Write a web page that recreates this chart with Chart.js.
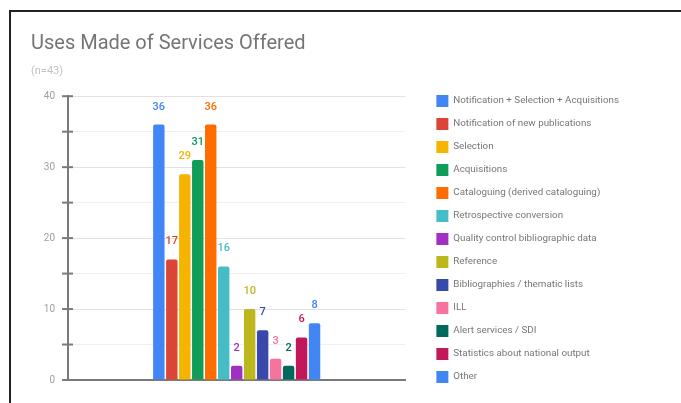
<!DOCTYPE html>
<html>
<head>
<meta charset="utf-8">
<script src="https://cdn.jsdelivr.net/npm/chart.js@4/dist/chart.umd.min.js"></script>
<style>
  html, body { margin: 0; padding: 0; background: #fff; overflow: hidden; }
  #wrap { position: relative; width: 681px; height: 403px; }
  #frame {
    position: absolute; left: 9px; top: 10px; width: 700px; height: 420px;
    border-top: 2px solid #222; border-left: 2px solid #222;
  }
  canvas { position: absolute; left: 0; top: 0; }
</style>
</head>
<body>
<div id="wrap">
  <div id="frame"></div>
  <canvas id="uses-chart" width="681" height="403"></canvas>
</div>
<script>
const services = [
  'Notification + Selection + Acquisitions',
  'Notification of new publications',
  'Selection',
  'Acquisitions',
  'Cataloguing (derived cataloguing)',
  'Retrospective conversion',
  'Quality control bibliographic data',
  'Reference',
  'Bibliographies / thematic lists',
  'ILL',
  'Alert services / SDI',
  'Statistics about national output',
  'Other'
];
const counts = [36, 17, 29, 31, 36, 16, 2, 10, 7, 3, 2, 6, 8];
const colors = [
  '#4285f4', '#db4437', '#f4b400', '#0f9d58', '#ff6d00', '#46bdc6', '#a12fc6',
  '#bdb71e', '#3949ab', '#f7739f', '#00695c', '#c2185b', '#4285f4'
];
const yTicks = [0, 10, 20, 30, 40];

// value above each bar, in the bar's colour
const barValues = {
  id: 'barValues',
  afterDatasetsDraw(chart) {
    const ctx = chart.ctx;
    ctx.save();
    ctx.font = '500 11px Roboto';
    ctx.textAlign = 'center';
    ctx.textBaseline = 'alphabetic';
    chart.data.datasets.forEach((ds, i) => {
      const bar = chart.getDatasetMeta(i).data[0];
      ctx.fillStyle = ds.backgroundColor;
      ctx.fillText(ds.data[0], bar.x, bar.y - 15);
    });
    ctx.restore();
  }
};

// small tick marks crossing the y axis line
const axisTicks = {
  id: 'axisTicks',
  afterDraw(chart) {
    const y = chart.scales.y;
    const ctx = chart.ctx;
    const x = chart.chartArea.left;
    ctx.save();
    ctx.strokeStyle = '#7a7a7a';
    ctx.lineWidth = 2;
    y.ticks.forEach(t => {
      const py = y.getPixelForValue(t.value);
      ctx.beginPath();
      ctx.moveTo(x - 6, py);
      ctx.lineTo(x + 5, py);
      ctx.stroke();
    });
    ctx.restore();
  }
};

new Chart(document.getElementById('uses-chart'), {
  type: 'bar',
  data: {
    labels: [''],
    datasets: services.map((name, i) => ({
      label: name,
      data: [counts[i]],
      backgroundColor: colors[i],
      borderRadius: 2,
      categoryPercentage: 0.5,
      barPercentage: 0.88
    }))
  },
  options: {
    responsive: false,
    devicePixelRatio: 1,
    animation: false,
    layout: { padding: { left: 31, right: 52, top: 0, bottom: 9 } },
    plugins: {
      title: {
        display: true,
        text: 'Uses Made of Services Offered',
        align: 'start',
        color: '#757575',
        font: { family: 'Roboto', size: 20, weight: 'normal' },
        padding: { top: 32, bottom: 0 }
      },
      subtitle: {
        display: true,
        text: '(n=43)',
        align: 'start',
        color: '#c2c2c2',
        font: { family: 'Roboto', size: 11 },
        padding: { top: 9, bottom: 18 }
      },
      legend: {
        position: 'right',
        align: 'end',
        fullSize: true,
        maxWidth: 320,
        labels: {
          boxWidth: 12,
          boxHeight: 12,
          padding: 11,
          color: '#777',
          font: { family: 'Roboto', size: 9.8 }
        }
      },
      tooltip: { enabled: false }
    },
    scales: {
      x: {
        afterFit(scale) { scale.height = 14; },
        grid: { display: false, drawTicks: false },
        ticks: { display: false },
        border: { display: true, color: '#7a7a7a', width: 2 }
      },
      y: {
        min: 0,
        max: 40,
        afterFit(scale) { scale.width = 37; },
        ticks: {
          stepSize: 5,
          padding: 13,
          color: '#a0a0a0',
          font: { family: 'Roboto', size: 10 },
          callback: v => (yTicks.includes(v) ? v : '')
        },
        grid: {
          drawTicks: false,
          color: ctx => (yTicks.includes(ctx.tick.value) ? '#e2e2e2' : '#f0f0f0')
        },
        border: { color: '#7a7a7a', width: 2 }
      },
      // spacer between plot and legend
      gap: {
        type: 'linear',
        position: 'right',
        grid: { display: false },
        ticks: { display: false },
        border: { display: false },
        afterFit(scale) { scale.width = 20; }
      }
    }
  },
  plugins: [barValues, axisTicks]
});
</script>
</body>
</html>
